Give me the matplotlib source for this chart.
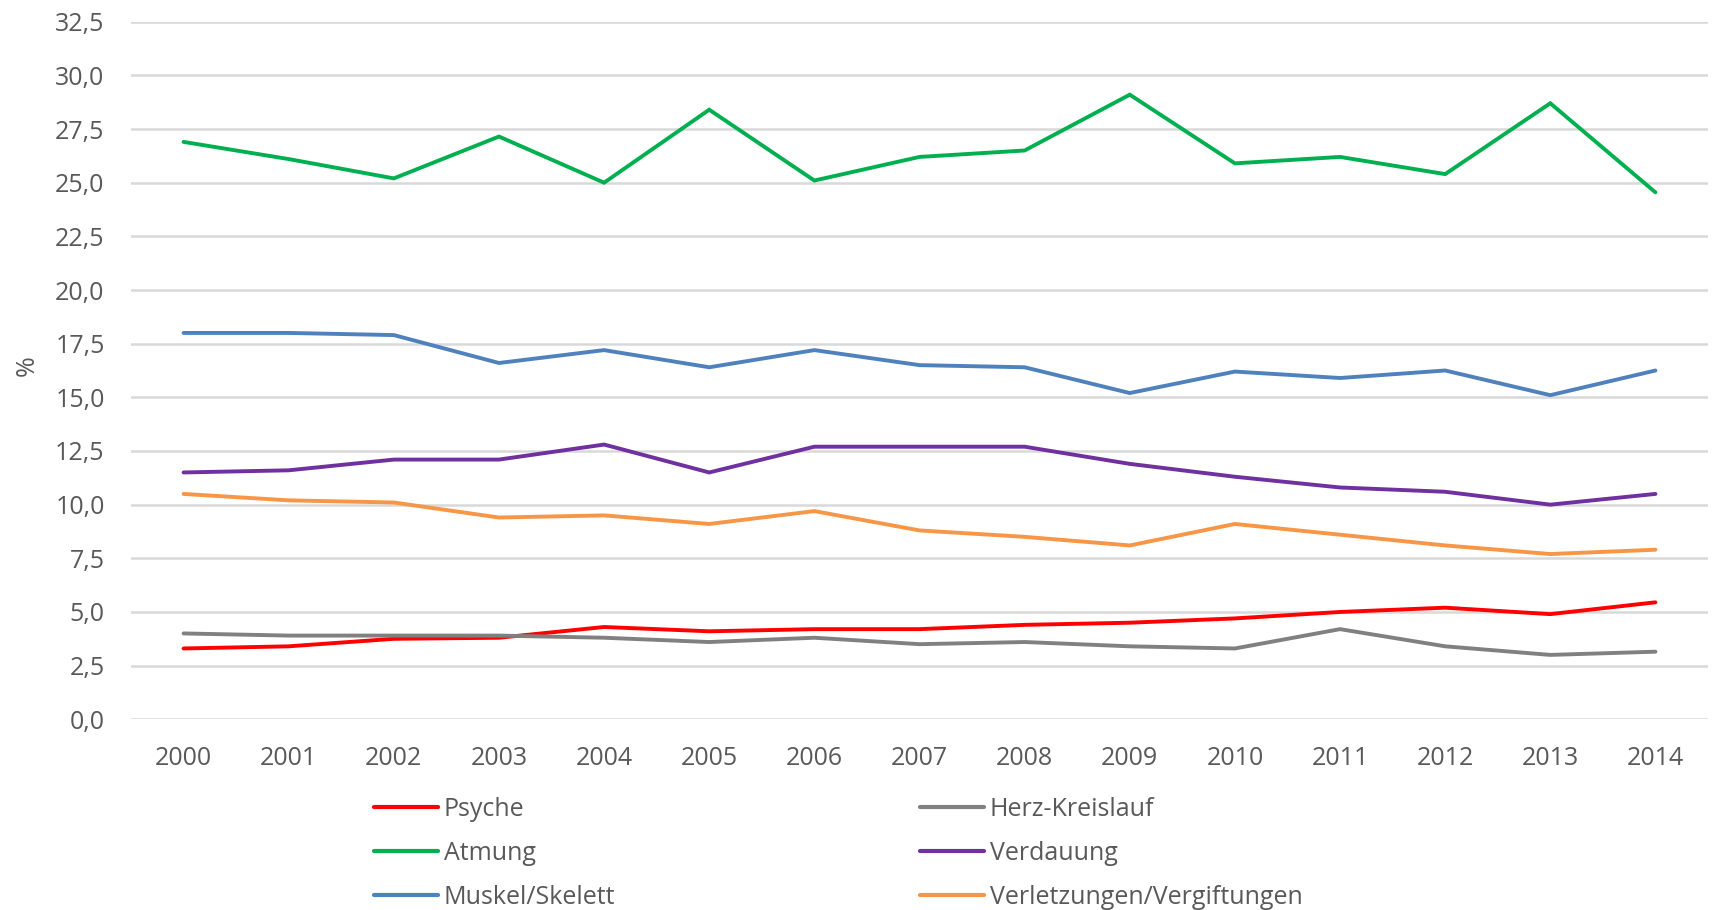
import matplotlib
matplotlib.use("Agg")
import matplotlib.pyplot as plt
from matplotlib.ticker import FuncFormatter, MultipleLocator

plt.rcParams['font.family'] = ['Open Sans', 'DejaVu Sans']

years = ["2000", "2001", "2002", "2003", "2004", "2005", "2006", "2007",
         "2008", "2009", "2010", "2011", "2012", "2013", "2014"]

psyche = [3.3, 3.4, 3.75, 3.8, 4.3, 4.1, 4.2, 4.2, 4.4, 4.5, 4.7, 5.0, 5.2, 4.9, 5.45]
herz = [4.0, 3.9, 3.9, 3.9, 3.8, 3.6, 3.8, 3.5, 3.6, 3.4, 3.3, 4.2, 3.4, 3.0, 3.15]
atmung = [26.9, 26.1, 25.2, 27.15, 25.0, 28.4, 25.1, 26.2, 26.5, 29.1, 25.9, 26.2, 25.4, 28.7, 24.55]
verdauung = [11.5, 11.6, 12.1, 12.1, 12.8, 11.5, 12.7, 12.7, 12.7, 11.9, 11.3, 10.8, 10.6, 10.0, 10.5]
muskel = [18.0, 18.0, 17.9, 16.6, 17.2, 16.4, 17.2, 16.5, 16.4, 15.2, 16.2, 15.9, 16.25, 15.1, 16.25]
verletzungen = [10.5, 10.2, 10.1, 9.4, 9.5, 9.1, 9.7, 8.8, 8.5, 8.1, 9.1, 8.6, 8.1, 7.7, 7.9]

series_names = ["Psyche", "Herz-Kreislauf", "Atmung", "Verdauung", "Muskel/Skelett",
                "Verletzungen/Vergiftungen"]
series_values = [psyche, herz, atmung, verdauung, muskel, verletzungen]
series_colors = ["#FF0000", "#808080", "#00B050", "#7030A0", "#4F81BD", "#F79646"]

W, H = 1713, 910
fig = plt.figure(figsize=(W / 100, H / 100), dpi=100)
ax = fig.add_axes([131 / W, 1 - 719.3 / H, (1708 - 131) / W, (719.3 - 21.7) / H])

x = list(range(len(years)))
lines = {}
for name, vals, col in zip(series_names, series_values, series_colors):
    ln, = ax.plot(x, vals, color=col, lw=2.8, solid_capstyle='round',
                  solid_joinstyle='miter', zorder=3)
    lines[name] = ln

ax.set_xlim(-0.5, len(years) - 0.5)
ax.set_ylim(0, 32.5)
ax.yaxis.set_major_locator(MultipleLocator(2.5))
ax.yaxis.set_major_formatter(FuncFormatter(lambda v, p: f"{v:.1f}".replace('.', ',')))
ax.set_xticks(x)
ax.set_xticklabels(years)
ax.grid(axis='y', color='#D9D9D9', lw=1.8, zorder=0)
ax.set_axisbelow(True)
for s in ax.spines.values():
    s.set_visible(False)
ax.tick_params(axis='both', length=0, colors='#595959', labelsize=18)
ax.tick_params(axis='y', pad=19)
ax.tick_params(axis='x', pad=19)

fig.text(27 / W, 1 - 366 / H, "%", rotation=90, ha='center', va='center',
         fontsize=18, color='#595959')

col1 = ["Psyche", "Atmung", "Muskel/Skelett"]
col2 = ["Herz-Kreislauf", "Verdauung", "Verletzungen/Vergiftungen"]
for names, x0 in ((col1, 374), (col2, 920)):
    leg = fig.legend([lines[n] for n in names], names, loc='upper left',
                     bbox_to_anchor=(x0 / W, 1 - 797 / H), bbox_transform=fig.transFigure,
                     frameon=False, borderpad=0, borderaxespad=0, handlelength=2.55,
                     handletextpad=0.25, labelspacing=0.76, fontsize=18, labelcolor='#595959')
    for h in leg.get_lines():
        h.set_linewidth(3.0)

fig.savefig("out.png", dpi=100)
